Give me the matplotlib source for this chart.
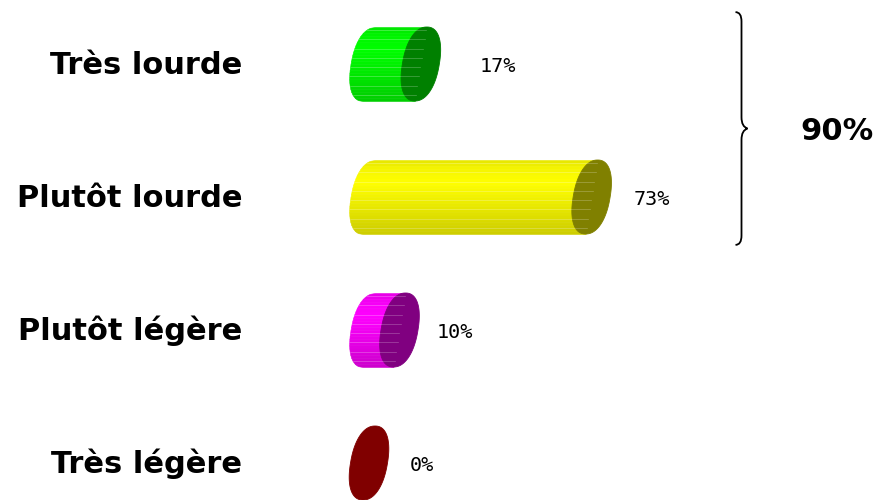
import numpy as np
import matplotlib
matplotlib.use('Agg')
import matplotlib.pyplot as plt
from matplotlib.path import Path
from matplotlib.patches import PathPatch, Polygon

# ------------------------- data ---------------------------
categories = ['Très lourde', 'Plutôt lourde', 'Plutôt légère', 'Très légère']
values = [17, 73, 10, 0]
value_labels = ['17%', '73%', '10%', '0%']
group_label = '90%'          # sum of the two first answers
# ------------------------- styles -------------------------
body_colors = [(0, 1, 0), (1, 1, 0), (1, 0, 1), (0.5, 0, 0)]
cap_colors = ['#008000', '#808000', '#800080', '#800000']
label_pad = [19.3, 13.8, 12.3, 13.4]   # gap between bar end and value label

px_per_unit = 3.05      # pixels for 1 %
x0_px = 369.0           # pixel of the 0 %
row0_px, row_step = 64.0, 133.0
W, H = 882, 500

rx = 18.5 / px_per_unit          # half width of end cap (data)
ry = 37.0 / row_step             # half height of end cap (data)
shear = (6.0 / px_per_unit) / (-ry)   # x shift per y unit (top leans right)
sup = 2.25                       # superellipse exponent -> fuller caps

fig = plt.figure(figsize=(W / 100, H / 100), dpi=100)
ax = fig.add_axes([0, 0, 1, 1])
ax.set_xlim(-x0_px / px_per_unit, (W - x0_px) / px_per_unit)
ax.set_ylim((H - row0_px) / row_step, -row0_px / row_step)
ax.axis('off')


def shade(col, t):
    # t=0 top, t=1 bottom of the cylinder
    f = np.interp(t, [0, 0.12, 0.3, 0.6, 1.0], [0.9, 0.96, 1.0, 0.92, 0.8])
    return tuple(min(1, c * f) for c in col)


def cap_xy(cx, cy, n=160):
    t = np.linspace(0, 2 * np.pi, n)
    c, s = np.cos(t), np.sin(t)
    dx = rx * np.sign(c) * np.abs(c) ** (2 / sup)
    dy = ry * np.sign(s) * np.abs(s) ** (2 / sup)
    return np.column_stack([cx + dx + shear * dy, cy + dy])


n_strips = 24
for i, (v, col, cap) in enumerate(zip(values, body_colors, cap_colors)):
    cy = i
    if v > 0:
        edges = np.linspace(-ry, ry, n_strips + 1)
        for k in range(n_strips):
            dy = np.linspace(edges[k], edges[k + 1], 5)
            half = rx * np.clip(1 - np.abs(dy / ry) ** sup, 0, 1) ** (1 / sup)
            xl = shear * dy - half
            xr = v + shear * dy
            c = shade(col, (k + 0.5) / n_strips)
            ax.fill_betweenx(cy + dy, xl, xr, color=c, lw=0.4, ec=c)
            if k % 3 == 1:
                # faint light stripe along the cylinder
                ax.plot([xl[0], xr[0]], [cy + dy[0]] * 2, color='white', lw=0.5, alpha=0.3)
    ax.add_patch(Polygon(cap_xy(v, cy), closed=True, fc=cap, ec=cap, lw=0.6))
    ax.text(v + label_pad[i], cy + 0.06, value_labels[i], ha='left', va='baseline',
            family='DejaVu Sans Mono', fontsize=14.5, color='black')
    ax.text(-41.6, cy + 0.075, categories[i], ha='right', va='baseline',
            family='DejaVu Sans', fontweight='bold', fontsize=22, color='black')

# brace spanning the first two answers
bx = (741.5 - x0_px) / px_per_unit
y_top, y_bot = 0 - 0.39, 1 + 0.36
y_mid = (y_top + y_bot) / 2
c1 = 6.0 / px_per_unit
tip = 6.0 / px_per_unit
cv = 0.07
verts = [(bx - c1, y_top), (bx, y_top), (bx, y_top + cv), (bx, y_top + cv * 1.2),
         (bx, y_mid - cv * 1.2), (bx, y_mid - cv * 0.2), (bx + tip, y_mid), (bx + tip, y_mid),
         (bx, y_mid + cv * 0.2), (bx, y_mid + cv * 1.2),
         (bx, y_bot - cv * 1.2), (bx, y_bot - cv), (bx, y_bot), (bx - c1, y_bot)]
codes = [Path.MOVETO, Path.CURVE3, Path.CURVE3, Path.LINETO,
         Path.LINETO, Path.CURVE3, Path.CURVE3, Path.MOVETO,
         Path.CURVE3, Path.CURVE3,
         Path.LINETO, Path.LINETO, Path.CURVE3, Path.CURVE3]
ax.add_patch(PathPatch(Path(verts, codes), fc='none', ec='black', lw=1.3))

ax.text((837 - x0_px) / px_per_unit, y_mid + 0.02, group_label, ha='center', va='center',
        family='DejaVu Sans', fontweight='bold', fontsize=22, color='black')

fig.savefig('out.png', dpi=100)
